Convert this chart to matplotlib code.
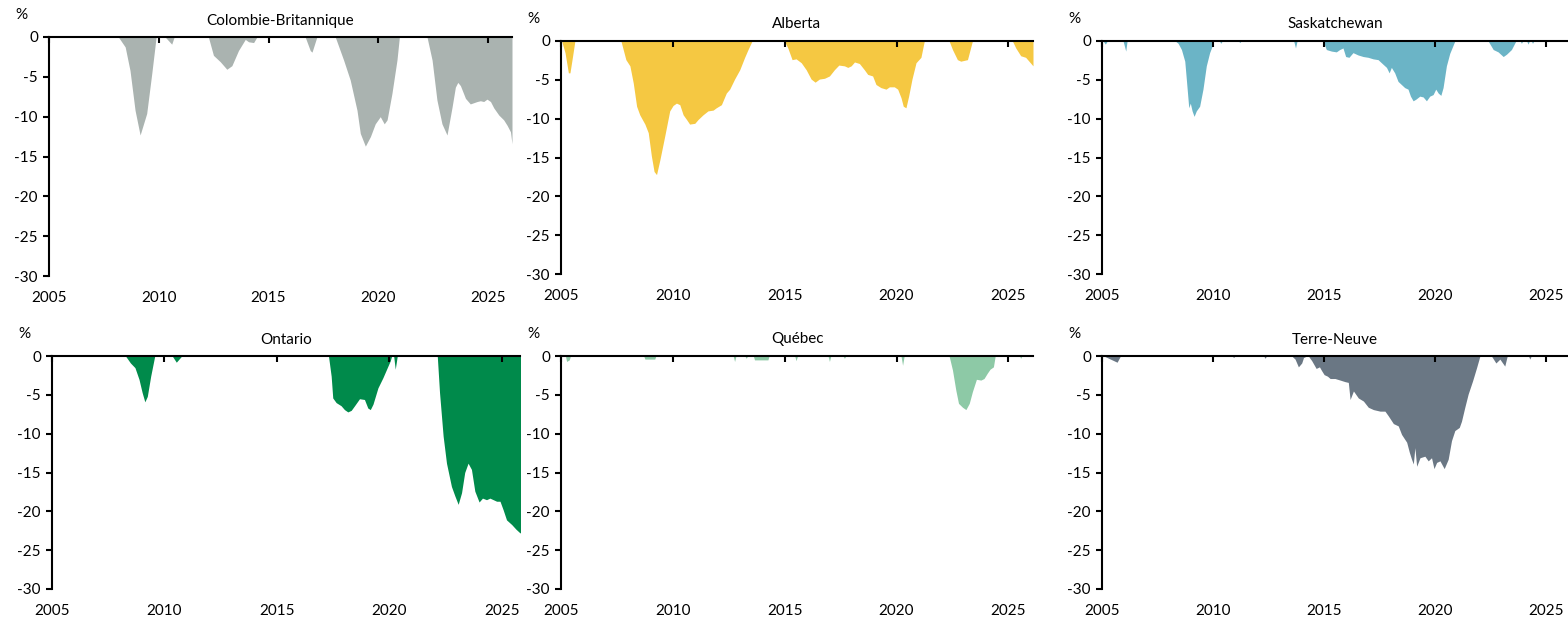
import matplotlib
matplotlib.use("Agg")
import matplotlib.pyplot as plt

plt.rcParams["font.family"] = ["Lato", "DejaVu Sans"]
plt.rcParams["font.size"] = 11
plt.rcParams["axes.unicode_minus"] = False

# Colombie-Britannique
bc_x = [2008.16, 2008.47, 2008.69, 2008.92, 2009.15, 2009.45, 2009.68, 2009.88,
        2010.29, 2010.59, 2010.70,
        2012.26, 2012.49, 2012.80, 2013.10, 2013.33, 2013.63, 2013.94, 2014.09, 2014.32, 2014.47,
        2016.67, 2016.90, 2016.98, 2017.20,
        2018.04, 2018.42, 2018.72, 2019.03, 2019.18, 2019.41, 2019.64, 2019.86, 2020.09, 2020.27,
        2020.40, 2020.62, 2020.85, 2020.96,
        2022.22, 2022.45, 2022.67, 2022.90, 2023.13, 2023.36, 2023.51, 2023.62, 2023.74, 2023.97,
        2024.19, 2024.50, 2024.65, 2024.80, 2024.95, 2025.11, 2025.26, 2025.49, 2025.71, 2025.87,
        2026.02, 2026.09]
bc_y = [0, -1.25, -4.2, -9.2, -12.3, -9.6, -4.6, 0,
        0, -0.9, 0,
        0, -2.3, -3.1, -4.05, -3.6, -1.7, -0.3, -0.6, -0.7, 0,
        0, -1.7, -1.9, 0,
        0, -2.9, -5.4, -9.2, -12.1, -13.7, -12.5, -10.9, -10.0, -10.9,
        -10.4, -7.1, -2.9, 0,
        0, -2.9, -7.9, -10.9, -12.3, -8.8, -6.3, -5.7, -6.1, -7.7,
        -8.4, -8.1, -8.0, -8.1, -7.8, -8.1, -8.9, -9.8, -10.4, -11.1,
        -11.9, -13.4]

# Alberta
ab_x = [2005.03, 2005.18, 2005.33, 2005.40, 2005.52, 2005.62,
        2007.68, 2007.90, 2008.08, 2008.23, 2008.38, 2008.52, 2008.75, 2008.90, 2009.04, 2009.16,
        2009.27, 2009.42, 2009.64, 2009.86, 2010.01, 2010.16, 2010.31, 2010.46, 2010.61, 2010.75,
        2010.98, 2011.13, 2011.35, 2011.57, 2011.80, 2011.94, 2012.17, 2012.39, 2012.54, 2012.76,
        2012.99, 2013.21, 2013.36, 2013.54,
        2014.99, 2015.14, 2015.33, 2015.51, 2015.74, 2015.96, 2016.18, 2016.36, 2016.55, 2016.78,
        2017.00, 2017.22, 2017.42, 2017.67, 2017.82, 2017.97, 2018.12, 2018.34, 2018.56, 2018.71,
        2018.93, 2019.08, 2019.30, 2019.53, 2019.68, 2019.90, 2020.05, 2020.20, 2020.30, 2020.42,
        2020.54, 2020.69, 2020.87, 2021.09, 2021.24,
        2022.35, 2022.50, 2022.72, 2022.87, 2023.17, 2023.39,
        2025.18, 2025.33, 2025.55, 2025.77, 2025.92, 2026.10]
ab_y = [0, -1.5, -4.1, -4.1, -1.9, 0,
        0, -2.4, -3.2, -5.4, -8.4, -9.5, -10.7, -11.8, -14.8, -16.8,
        -17.2, -15.3, -12.2, -9.0, -8.3, -8.0, -8.2, -9.5, -10.1, -10.7,
        -10.6, -10.1, -9.5, -9.0, -8.9, -8.6, -8.2, -6.7, -6.2, -4.9,
        -3.7, -2.1, -1.1, 0,
        0, -0.9, -2.4, -2.3, -2.8, -3.7, -4.9, -5.3, -4.9, -4.8,
        -4.5, -3.7, -3.1, -3.2, -3.4, -3.2, -2.7, -2.9, -3.7, -4.3,
        -4.5, -5.6, -6.0, -6.2, -5.9, -5.9, -6.2, -7.3, -8.4, -8.6,
        -7.1, -4.9, -2.8, -2.1, 0,
        0, -1.1, -2.4, -2.6, -2.4, 0,
        0, -0.9, -1.9, -2.1, -2.6, -3.2]

# Saskatchewan
sk_x = [2005.05, 2005.15, 2005.24,
        2005.95, 2006.07, 2006.13,
        2008.30, 2008.43, 2008.58, 2008.73, 2008.80, 2008.91, 2008.98, 2009.06, 2009.15, 2009.25,
        2009.40, 2009.55, 2009.70, 2009.85, 2009.97, 2010.03,
        2010.30, 2010.35, 2010.42,
        2011.15, 2011.21, 2011.27,
        2013.64, 2013.72, 2013.79,
        2014.96, 2015.11, 2015.34, 2015.56, 2015.71, 2015.86, 2015.98, 2016.13, 2016.31, 2016.54,
        2016.77, 2016.99, 2017.22, 2017.44, 2017.59, 2017.82, 2017.94, 2018.04, 2018.19, 2018.34,
        2018.49, 2018.64, 2018.79, 2018.90, 2019.02, 2019.14, 2019.32, 2019.47, 2019.62, 2019.77,
        2019.92, 2020.04, 2020.15, 2020.27, 2020.37, 2020.52, 2020.67, 2020.90,
        2022.40, 2022.63, 2022.85, 2023.08, 2023.23, 2023.45, 2023.65,
        2023.85, 2023.90, 2023.96, 2024.14, 2024.20, 2024.26, 2024.35, 2024.40, 2024.46]
sk_y = [0, -0.4, 0,
        0, -1.3, 0,
        0, -0.3, -1.1, -2.6, -4.9, -8.6, -8.0, -9.0, -9.7, -9.0,
        -8.4, -6.2, -3.2, -1.5, -0.6, 0,
        0, -0.3, 0,
        0, -0.2, 0,
        0, -0.9, 0,
        0, -1.1, -1.3, -1.4, -1.1, -0.9, -2.0, -2.1, -1.5, -1.8,
        -2.0, -2.1, -2.3, -2.4, -2.8, -3.4, -4.1, -3.4, -4.1, -5.2,
        -5.6, -6.0, -6.2, -7.1, -7.7, -7.5, -7.1, -7.2, -7.7, -7.1,
        -6.9, -6.2, -6.7, -7.0, -6.0, -3.2, -1.6, 0,
        0, -1.1, -1.4, -2.0, -1.7, -1.1, 0,
        0, -0.3, 0, 0, -0.4, 0, 0, -0.3, 0]

# Ontario
on_x = [2008.27, 2008.49, 2008.69, 2008.87, 2009.01, 2009.13, 2009.24, 2009.39, 2009.57,
        2010.35, 2010.53, 2010.77,
        2017.30, 2017.42, 2017.49, 2017.64, 2017.86, 2018.01, 2018.16, 2018.31, 2018.46, 2018.68,
        2018.90, 2019.05, 2019.16, 2019.28, 2019.50, 2019.72, 2019.90, 2020.05, 2020.11, 2020.20,
        2020.27, 2020.36,
        2022.14, 2022.24, 2022.40, 2022.55, 2022.77, 2022.92, 2023.07, 2023.22, 2023.36, 2023.51,
        2023.66, 2023.81, 2024.00, 2024.15, 2024.33, 2024.48, 2024.63, 2024.78, 2024.93, 2025.07,
        2025.22, 2025.45, 2025.64, 2025.79, 2025.95]
on_y = [0, -0.9, -1.5, -3.0, -4.7, -5.9, -5.2, -2.6, 0,
        0, -0.8, 0,
        0, -2.6, -5.4, -6.0, -6.4, -6.9, -7.2, -7.0, -6.4, -5.5,
        -5.6, -6.7, -6.9, -6.2, -4.1, -2.8, -1.6, -0.6, 0, 0,
        -1.7, 0,
        0, -4.7, -10.3, -13.8, -16.8, -18.0, -19.1, -17.6, -15.0, -13.8,
        -14.6, -17.4, -18.8, -18.3, -18.5, -18.3, -18.5, -18.7, -18.7, -19.8,
        -21.1, -21.7, -22.3, -22.7, -23.0]

# Québec
qc_x = [2005.20, 2005.25, 2005.37, 2005.42,
        2008.70, 2008.75, 2009.19, 2009.24,
        2012.70, 2012.76, 2012.82, 2013.22, 2013.28, 2013.34,
        2013.60, 2013.65, 2014.25, 2014.30,
        2015.45, 2015.51, 2015.57, 2016.94, 2017.00, 2017.06, 2017.61, 2017.67, 2017.73,
        2020.20, 2020.27, 2020.34,
        2022.35, 2022.50, 2022.65, 2022.77, 2022.95, 2023.10, 2023.25, 2023.39, 2023.57, 2023.77,
        2023.91, 2024.06, 2024.18, 2024.33, 2024.41,
        2025.50, 2025.55, 2025.60]
qc_y = [0, -0.7, -0.5, 0,
        0, -0.4, -0.4, 0,
        0, -0.7, 0, 0, -0.3, 0,
        0, -0.5, -0.5, 0,
        0, -0.6, 0, 0, -0.7, 0, 0, -0.3, 0,
        0, -1.2, 0,
        0, -1.8, -4.4, -6.1, -6.6, -6.9, -6.1, -4.6, -3.0, -3.1,
        -2.9, -2.2, -1.7, -1.4, 0,
        0, -0.3, 0]

# Terre-Neuve
nl_x = [2005.08, 2005.68, 2005.83,
        2010.87, 2010.93, 2010.99, 2012.29, 2012.35, 2012.41,
        2013.55, 2013.70, 2013.85, 2014.00, 2014.08, 2014.23, 2014.30, 2014.45, 2014.65, 2014.80,
        2014.90, 2015.01, 2015.16, 2015.28, 2015.50, 2015.73, 2015.95, 2016.10, 2016.18, 2016.33,
        2016.55, 2016.78, 2017.00, 2017.23, 2017.53, 2017.75, 2017.90, 2018.13, 2018.35, 2018.50,
        2018.73, 2018.85, 2018.95, 2019.03, 2019.10, 2019.18, 2019.33, 2019.55, 2019.70, 2019.85,
        2019.96, 2020.08, 2020.23, 2020.42, 2020.60, 2020.75, 2020.90, 2021.10, 2021.20, 2021.35,
        2021.50, 2021.70, 2021.88, 2022.03,
        2022.55, 2022.75, 2022.93, 2023.15, 2023.26,
        2024.22, 2024.28, 2024.34]
nl_y = [0, -0.8, 0,
        0, -0.2, 0, 0, -0.3, 0,
        0, -0.4, -1.4, -0.9, -0.2, 0, 0, -0.6, -1.6, -1.4,
        -1.9, -2.4, -2.6, -2.9, -2.9, -3.1, -3.3, -3.4, -5.6, -4.5,
        -5.4, -5.8, -6.6, -6.9, -7.1, -7.1, -7.7, -8.7, -9.0, -10.1,
        -11.1, -12.4, -13.3, -13.9, -11.8, -14.2, -13.1, -12.9, -13.5, -13.1,
        -14.5, -13.7, -13.5, -14.5, -13.3, -10.9, -9.6, -9.2, -8.4, -6.6,
        -4.9, -3.2, -1.5, 0,
        0, -0.9, -0.4, -1.3, 0,
        0, -0.4, 0]

titles = ["Colombie-Britannique", "Alberta", "Saskatchewan",
          "Ontario", "Québec", "Terre-Neuve"]
series = [(bc_x, bc_y), (ab_x, ab_y), (sk_x, sk_y),
          (on_x, on_y), (qc_x, qc_y), (nl_x, nl_y)]
colors = ["#AAB3B0", "#F5C842", "#6BB4C6", "#008A4B", "#8DC9A6", "#6A7784"]
year_ticks = [2005, 2010, 2015, 2020, 2025]
pct_ticks = [-30, -25, -20, -15, -10, -5, 0]

W, H = 1568, 621
# panel boxes in pixels: left, right, top, bottom, right-hand year limit
boxes = [(49, 512, 37, 276, 2026.09), (561, 1033, 41, 274, 2026.1), (1102, 1568, 41, 274, 2026.0),
         (52, 520, 356, 589, 2025.82), (561, 1033, 356, 589, 2026.1), (1102, 1568, 356, 589, 2026.0)]

fig = plt.figure(figsize=(W / 100, H / 100), dpi=100)

for (x, y), title, color, (l, r, t, b, xmax) in zip(series, titles, colors, boxes):
    ax = fig.add_axes([l / W, 1 - b / H, (r - l) / W, (b - t) / H])
    ax.fill_between(x, y, 0, color=color, linewidth=0)
    ax.set_xlim(2005, xmax)
    ax.set_ylim(-30, 0)
    ax.set_xticks(year_ticks)
    ax.set_yticks(pct_ticks)
    for side in ("right", "bottom"):
        ax.spines[side].set_visible(False)
    for side in ("left", "top"):
        ax.spines[side].set_linewidth(1.5)
        ax.spines[side].set_zorder(3)
    # year ticks sit on the zero line, labels stay under the panel
    ax.tick_params(axis="x", top=True, bottom=False, labeltop=False, labelbottom=True,
                   direction="in", length=4, width=1.5, pad=11, labelsize=11)
    ax.tick_params(axis="y", direction="out", length=4, width=1.5, pad=4, labelsize=11)
    ax.set_title(title, fontsize=11, pad=9)
    ax.annotate("%", xy=(0, 1), xycoords="axes fraction", xytext=(-20, 11),
                textcoords="offset points", ha="center", va="bottom", fontsize=11)

fig.savefig("out.png", dpi=100)
